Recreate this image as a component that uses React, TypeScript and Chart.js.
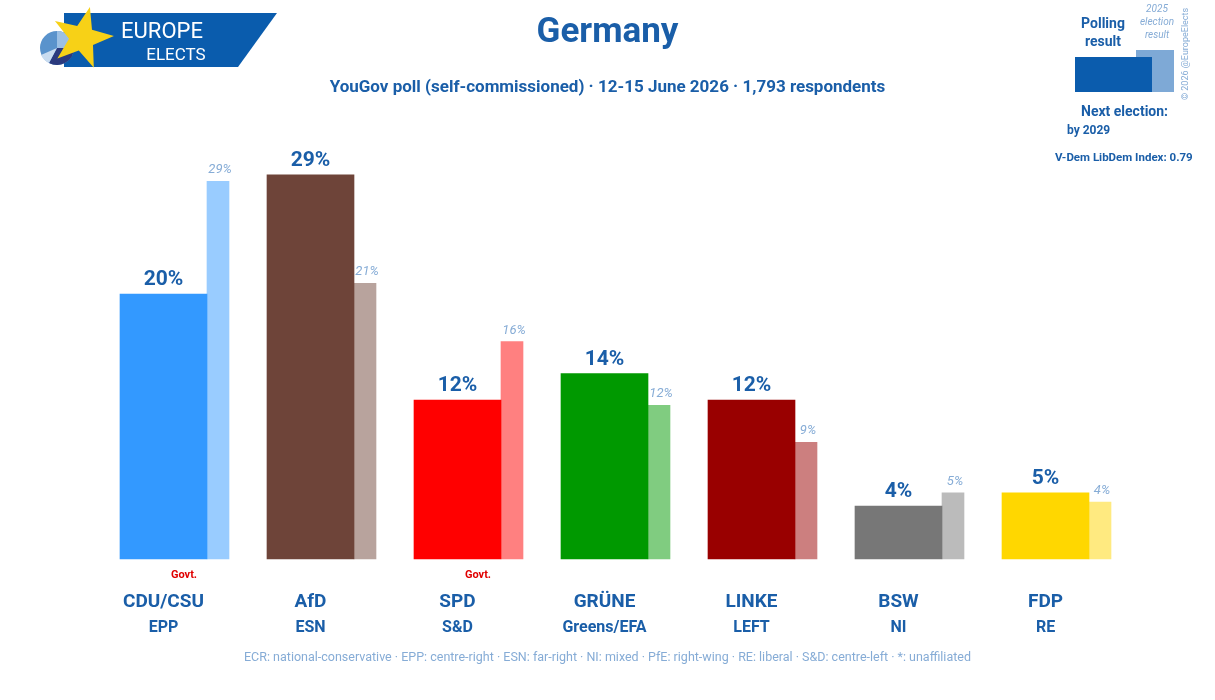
import React, { useEffect, useRef } from "react";
import { Chart, registerables } from "chart.js";

Chart.register(...registerables);

const parties = ["CDU/CSU", "AfD", "SPD", "GRÜNE", "LINKE", "BSW", "FDP"];
const groups = ["EPP", "ESN", "S&D", "Greens/EFA", "LEFT", "NI", "RE"];
const inGovt = [true, false, true, false, false, false, false];
const pollValues = [20, 29, 12, 14, 12, 4, 5];
const electionValues = [28.5, 20.8, 16.4, 11.6, 8.8, 5.0, 4.3];
const pollColors = ["#3399ff", "#6e4439", "#ff0000", "#009900", "#990000", "#777777", "#ffd700"];
const electionColors = ["#99ccff", "#b8a39d", "#ff8080", "#80cc80", "#cc7f7f", "#bbbbbb", "#ffea80"];

const FONT = "Roboto, 'Noto Sans', sans-serif";
const DARK = "#1a5ea8";
const LIGHT = "#86acd6";

const labelPlugin = {
  id: "labels",
  afterDatasetsDraw(chart: any) {
    const ctx = chart.ctx;
    const m0 = chart.getDatasetMeta(0);
    const m1 = chart.getDatasetMeta(1);
    ctx.save();
    ctx.textAlign = "center";
    ctx.textBaseline = "alphabetic";
    m0.data.forEach((bar: any, i: number) => {
      ctx.fillStyle = DARK;
      ctx.font = `bold 21px ${FONT}`;
      ctx.fillText(`${pollValues[i]}%`, bar.x, bar.y - 9);
      const eb = m1.data[i];
      ctx.fillStyle = LIGHT;
      ctx.font = `italic 13px ${FONT}`;
      ctx.fillText(`${Math.round(electionValues[i])}%`, eb.x + 2, eb.y - 8);
      const right = bar.x + bar.width / 2;
      if (inGovt[i]) {
        ctx.fillStyle = "#e00000";
        ctx.font = `bold 11px ${FONT}`;
        ctx.fillText("Govt.", right - 23, 578);
      }
      ctx.fillStyle = DARK;
      ctx.font = `bold 19px ${FONT}`;
      ctx.fillText(parties[i], bar.x, 607);
      ctx.font = `bold 16px ${FONT}`;
      ctx.fillText(groups[i], bar.x, 632);
    });
    ctx.restore();
  },
};

function Logo() {
  const star: string[] = [];
  const cx = 82, cy = 38, ro = 32, ri = 13;
  for (let k = 0; k < 10; k++) {
    const a = -Math.PI / 2 + 0.25 + (k * Math.PI) / 5;
    const r = k % 2 === 0 ? ro : ri;
    star.push(`${cx + r * Math.cos(a)},${cy + r * Math.sin(a)}`);
  }
  return (
    <svg width="290" height="75" style={{ position: "absolute", left: 0, top: 0 }}>
      <polygon points="64,13 277,13 238,67 64,67" fill="#0a5cad" />
      <circle cx="57" cy="48" r="17" fill="#5a93cc" />
      <path d="M57,48 L57,31 A17,17 0 0 1 74,48 Z" fill="#9cc0e4" />
      <path d="M57,48 L74,48 A17,17 0 0 1 49,63 Z" fill="#2b3a7e" />
      <path d="M57,48 L49,63 A17,17 0 0 1 41,55 Z" fill="#c9dcf0" />
      <polygon points={star.join(" ")} fill="#f7d117" />
      <text x="162" y="38" fill="#fff" fontFamily={FONT} fontSize="22" textAnchor="middle">EUROPE</text>
      <text x="176" y="60" fill="#fff" fontFamily={FONT} fontSize="17" textAnchor="middle">ELECTS</text>
    </svg>
  );
}

export default function App() {
  const ref = useRef<HTMLCanvasElement>(null);
  useEffect(() => {
    if (!ref.current) return;
    const chart = new Chart(ref.current, {
      type: "bar",
      data: {
        labels: parties,
        datasets: [
          { label: "Polling result", data: pollValues, backgroundColor: pollColors, barThickness: 87, clip: false },
          { label: "2025 election result", data: electionValues, backgroundColor: electionColors, barThickness: 22, clip: false },
        ],
      },
      options: {
        animation: false,
        responsive: false,
        maintainAspectRatio: false,
        layout: { padding: { left: 133.5, right: 52.5, top: 135, bottom: 141 } },
        plugins: { legend: { display: false }, tooltip: { enabled: false }, title: { display: false } },
        scales: {
          x: { display: false },
          y: { display: false, min: 0, max: 32 },
        },
      },
      plugins: [labelPlugin],
    });
    return () => chart.destroy();
  }, []);

  const abs = (s: React.CSSProperties): React.CSSProperties => ({ position: "absolute", fontFamily: FONT, ...s });

  return (
    <div style={{ position: "relative", width: 1215, height: 700, background: "#fff", overflow: "hidden" }}>
      <style>{"body{margin:0}"}</style>
      <canvas ref={ref} width={1215} height={700} style={{ position: "absolute", left: 0, top: 0 }} />
      <Logo />
      <div style={abs({ left: 0, width: 1215, top: 10, textAlign: "center", fontSize: 35, fontWeight: 700, color: DARK })}>Germany</div>
      <div style={abs({ left: 0, width: 1215, top: 76, textAlign: "center", fontSize: 17, fontWeight: 700, color: DARK })}>
        YouGov poll (self-commissioned) · 12-15 June 2026 · 1,793 respondents
      </div>
      <div style={abs({ left: 0, width: 1215, top: 649, textAlign: "center", fontSize: 12.5, color: LIGHT })}>
        ECR: national-conservative · EPP: centre-right · ESN: far-right · NI: mixed · PfE: right-wing · RE: liberal · S&D: centre-left · *: unaffiliated
      </div>
      <div style={abs({ left: 1063, width: 80, top: 14, textAlign: "center", fontSize: 14, fontWeight: 700, color: DARK, lineHeight: "18px" })}>
        Polling<br />result
      </div>
      <div style={abs({ left: 1127, width: 60, top: 2, textAlign: "center", fontSize: 10, fontStyle: "italic", color: LIGHT, lineHeight: "13px" })}>
        2025<br />election<br />result
      </div>
      <div style={{ position: "absolute", left: 1136, top: 50, width: 38, height: 42, background: "#7ea9d6" }} />
      <div style={{ position: "absolute", left: 1075, top: 57, width: 77, height: 35, background: "#0b5cad" }} />
      <div style={abs({ left: 1140, top: 50, width: 90, textAlign: "center", fontSize: 9, color: LIGHT, transform: "rotate(-90deg)", whiteSpace: "nowrap" })}>
        © 2026 @EuropeElects
      </div>
      <div style={abs({ left: 1081, top: 103, fontSize: 14, fontWeight: 700, color: DARK })}>Next election:</div>
      <div style={abs({ left: 1067, top: 123, fontSize: 12, fontWeight: 700, color: DARK })}>by 2029</div>
      <div style={abs({ left: 1055, top: 150, fontSize: 11.5, fontWeight: 700, color: DARK })}>V-Dem LibDem Index: 0.79</div>
    </div>
  );
}
